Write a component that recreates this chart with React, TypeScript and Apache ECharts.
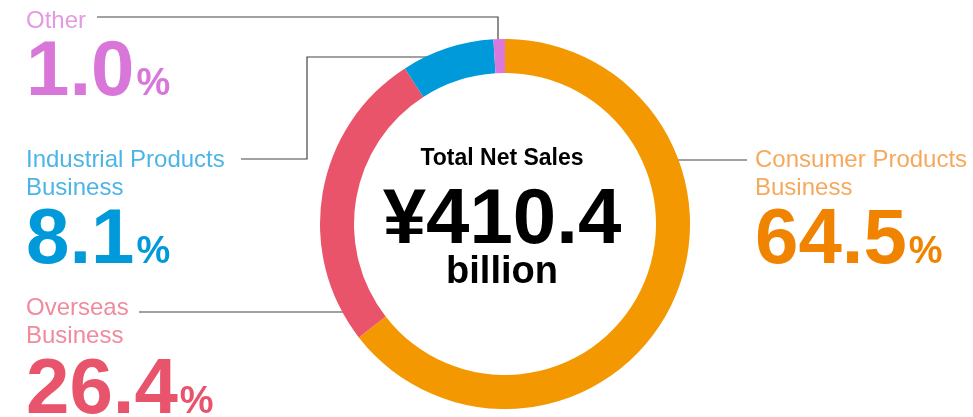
import React, { useEffect, useRef } from "react";
import * as echarts from "echarts";

// ---- data ----
const categories = ["Consumer Products Business", "Overseas Business", "Industrial Products Business", "Other"];
const shares = [64.5, 26.4, 8.1, 1.0];
const nameLines = [["Consumer Products", "Business"], ["Overseas", "Business"], ["Industrial Products", "Business"], ["Other"]];
const centerTitle = "Total Net Sales";
const totalNetSales = 410.4;
const totalUnit = "billion";

// ---- styles / layout ----
const FONT = '"Liberation Sans", Arial, Helvetica, sans-serif';
const ringColors = ["#F39800", "#E9546B", "#009ADA", "#DA78DB"];
const nameColors = ["#F6A95C", "#F08A9C", "#4CB5E6", "#E39AE3"];
const numColors = ["#F08300", "#E8546B", "#0099D9", "#D976D9"];
const labelPos = [
  { x: 755, nameBase: 167, numBase: 263, line: [[663, 160], [747, 160]] },
  { x: 26, nameBase: 315, numBase: 413, line: [[139, 312], [352, 312]] },
  { x: 26, nameBase: 167, numBase: 263, line: [[241, 159], [307, 159], [307, 57], [450, 57]] },
  { x: 26, nameBase: 28, numBase: 95, line: [[97, 17], [498, 17], [498, 50]] },
];
const LINE_GAP = 28;
const MID = 0.35; // middle-baseline offset as fraction of font size

export default function App() {
  const ref = useRef<HTMLDivElement>(null);
  useEffect(() => {
    if (!ref.current) return;
    const chart = echarts.init(ref.current, undefined, { renderer: "svg" });
    const canvas = document.createElement("canvas");
    const ctx = canvas.getContext("2d")!;
    const measure = (font: string, t: string) => {
      ctx.font = font;
      return ctx.measureText(t).width;
    };
    const txt = (text: string, x: number, base: number, size: number, weight: string, fill: string, align = "left") => ({
      type: "text",
      silent: true,
      style: {
        text,
        x,
        y: base - MID * size,
        font: `${weight} ${size}px ${FONT}`,
        fill,
        align,
        textAlign: align,
        verticalAlign: "middle",
        textVerticalAlign: "middle",
      },
    });
    const graphics: any[] = [];
    categories.forEach((_, i) => {
      const p = labelPos[i];
      graphics.push({
        type: "polyline",
        silent: true,
        shape: { points: p.line },
        style: { stroke: "#444", lineWidth: 1.2, fill: null },
      });
      nameLines[i].forEach((ln, j) => {
        graphics.push(txt(ln, p.x, p.nameBase + j * LINE_GAP, 24, "normal", nameColors[i]));
      });
      const numStr = shares[i].toFixed(1);
      const numFont = `bold 78px ${FONT}`;
      const w = measure(numFont, numStr);
      graphics.push(txt(numStr, p.x, p.numBase, 78, "bold", numColors[i]));
      graphics.push(txt("%", p.x + w + 2, p.numBase, 38, "bold", numColors[i]));
    });
    graphics.push(txt(centerTitle, 502, 165, 23, "bold", "#000", "center"));
    graphics.push(txt("¥" + totalNetSales.toFixed(1), 502, 243, 78, "bold", "#000", "center"));
    graphics.push(txt(totalUnit, 502, 283, 38, "bold", "#000", "center"));

    chart.setOption({
      animation: false,
      series: [
        {
          type: "pie",
          center: [505, 224],
          radius: [151, 185],
          startAngle: 90,
          clockwise: true,
          silent: true,
          avoidLabelOverlap: false,
          label: { show: false },
          labelLine: { show: false },
          emphasis: { disabled: true },
          itemStyle: { borderWidth: 0 },
          data: categories.map((c, i) => ({ name: c, value: shares[i], itemStyle: { color: ringColors[i] } })),
        },
      ],
      graphic: graphics,
    });
    return () => chart.dispose();
  }, []);
  return <div ref={ref} style={{ position: "fixed", left: 0, top: 0, width: 973, height: 417 }} />;
}
